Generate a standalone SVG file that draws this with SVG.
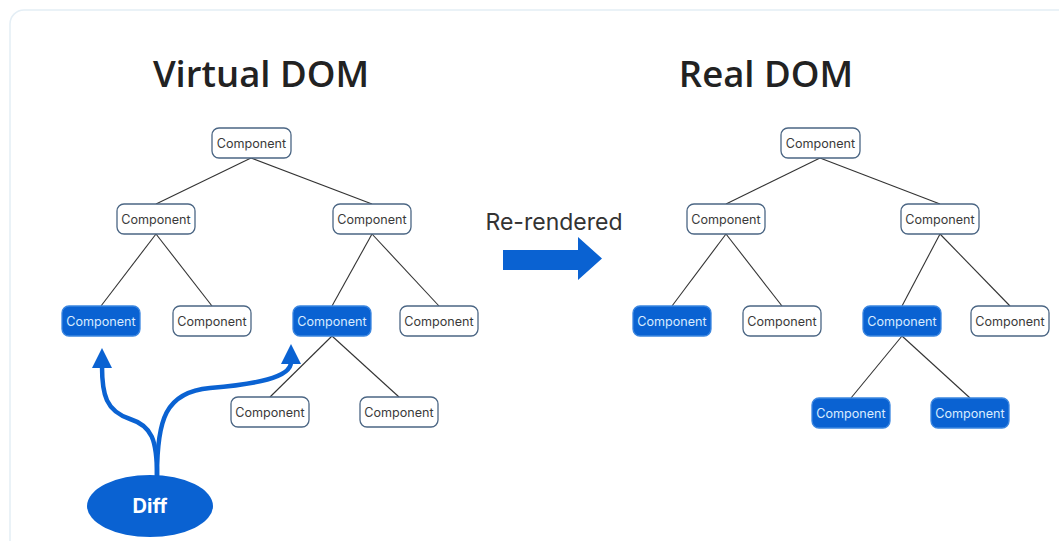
<svg xmlns="http://www.w3.org/2000/svg" width="1059" height="541" viewBox="0 0 1059 541">
<defs>
<style>
.n rect{fill:#ffffff;stroke:#4b6684;stroke-width:1.3}
.n text{font-family:Inter,"Noto Sans",sans-serif;font-size:12.6px;fill:#3a3a3a;text-anchor:middle}
.b rect{fill:#0a62d2;stroke:#3b86e0;stroke-width:1.3}
.b text{fill:#d9ecff}
.t{font-family:"Open Sans","Noto Sans",sans-serif;font-weight:600;font-size:36.5px;fill:#222;text-anchor:middle}
.c line{stroke:#333;stroke-width:1.1}
.d{fill:none;stroke:#0a62d2;stroke-width:4.5}
</style>
<marker id="ah" viewBox="0 0 10 10" refX="1" refY="5" markerUnits="userSpaceOnUse" markerWidth="20" markerHeight="20" orient="auto">
<path d="M0,0 L10,5 L0,10 z" fill="#0a62d2"/>
</marker>
</defs>
<rect x="0" y="0" width="1059" height="541" fill="#ffffff"/>
<rect x="10" y="10" width="1070" height="560" rx="14" fill="#ffffff" stroke="#e4eef5" stroke-width="1.5"/>
<text class="t" x="261" y="87">Virtual DOM</text>
<text class="t" x="766" y="87">Real DOM</text>
<g class="c">
<line x1="251" y1="158" x2="156" y2="204"/>
<line x1="251" y1="158" x2="372" y2="204"/>
<line x1="156" y1="234" x2="101" y2="306"/>
<line x1="156" y1="234" x2="212" y2="306"/>
<line x1="372" y1="234" x2="332" y2="306"/>
<line x1="372" y1="234" x2="439" y2="306"/>
<line x1="332" y1="336" x2="270" y2="397"/>
<line x1="332" y1="336" x2="399" y2="397"/>
<line x1="820" y1="158" x2="726" y2="204"/>
<line x1="820" y1="158" x2="940" y2="204"/>
<line x1="726" y1="234" x2="672" y2="306"/>
<line x1="726" y1="234" x2="782" y2="306"/>
<line x1="940" y1="234" x2="902" y2="306"/>
<line x1="940" y1="234" x2="1010" y2="306"/>
<line x1="902" y1="336" x2="851" y2="398"/>
<line x1="902" y1="336" x2="970" y2="398"/>
<path class="d" d="M157,476 C157,440 152,426 130,419 C106,411 102,395 102,366" marker-end="url(#ah)"/>
<path class="d" d="M157,476 C157,420 165,392 210,388 C255,384 291,378 291,362" marker-end="url(#ah)"/>
</g>
<g id="v-root" class="n"><rect x="212" y="128" width="79" height="30" rx="7"/><text x="251.5" y="147.5">Component</text></g>
<g id="v-l" class="n"><rect x="117" y="204" width="78" height="30" rx="7"/><text x="156" y="223.5">Component</text></g>
<g id="v-r" class="n"><rect x="333" y="204" width="78" height="30" rx="7"/><text x="372" y="223.5">Component</text></g>
<g id="v-ll" class="n b"><rect x="62" y="306" width="78" height="30" rx="7"/><text x="101" y="325.5">Component</text></g>
<g id="v-lr" class="n"><rect x="173" y="306" width="78" height="30" rx="7"/><text x="212" y="325.5">Component</text></g>
<g id="v-rl" class="n b"><rect x="293" y="306" width="78" height="30" rx="7"/><text x="332" y="325.5">Component</text></g>
<g id="v-rr" class="n"><rect x="400" y="306" width="78" height="30" rx="7"/><text x="439" y="325.5">Component</text></g>
<g id="v-rll" class="n"><rect x="231" y="397" width="78" height="30" rx="7"/><text x="270" y="416.5">Component</text></g>
<g id="v-rlr" class="n"><rect x="360" y="397" width="78" height="30" rx="7"/><text x="399" y="416.5">Component</text></g>
<g id="r-root" class="n"><rect x="781" y="128" width="79" height="30" rx="7"/><text x="820.5" y="147.5">Component</text></g>
<g id="r-l" class="n"><rect x="687" y="204" width="78" height="30" rx="7"/><text x="726" y="223.5">Component</text></g>
<g id="r-r" class="n"><rect x="901" y="204" width="78" height="30" rx="7"/><text x="940" y="223.5">Component</text></g>
<g id="r-ll" class="n b"><rect x="633" y="306" width="78" height="30" rx="7"/><text x="672" y="325.5">Component</text></g>
<g id="r-lr" class="n"><rect x="743" y="306" width="78" height="30" rx="7"/><text x="782" y="325.5">Component</text></g>
<g id="r-rl" class="n b"><rect x="863" y="306" width="78" height="30" rx="7"/><text x="902" y="325.5">Component</text></g>
<g id="r-rr" class="n"><rect x="971" y="306" width="78" height="30" rx="7"/><text x="1010" y="325.5">Component</text></g>
<g id="r-rll" class="n b"><rect x="812" y="398" width="78" height="30" rx="7"/><text x="851" y="417.5">Component</text></g>
<g id="r-rlr" class="n b"><rect x="931" y="398" width="78" height="30" rx="7"/><text x="970" y="417.5">Component</text></g>
<g id="rerender">
<text x="554" y="230" font-family="Inter,'Noto Sans',sans-serif" font-size="23" fill="#333" text-anchor="middle">Re-rendered</text>
<path d="M503,250 L578,250 L578,237 L602,258.5 L578,280 L578,270 L503,270 z" fill="#0a62d2"/>
</g>
<g id="diff">
<ellipse cx="150" cy="506" rx="63" ry="31" fill="#0a62d2"/>
<text x="150" y="513" font-family="Inter,'Noto Sans',sans-serif" font-weight="700" font-size="20" fill="#ffffff" text-anchor="middle">Diff</text>
</g>
</svg>
